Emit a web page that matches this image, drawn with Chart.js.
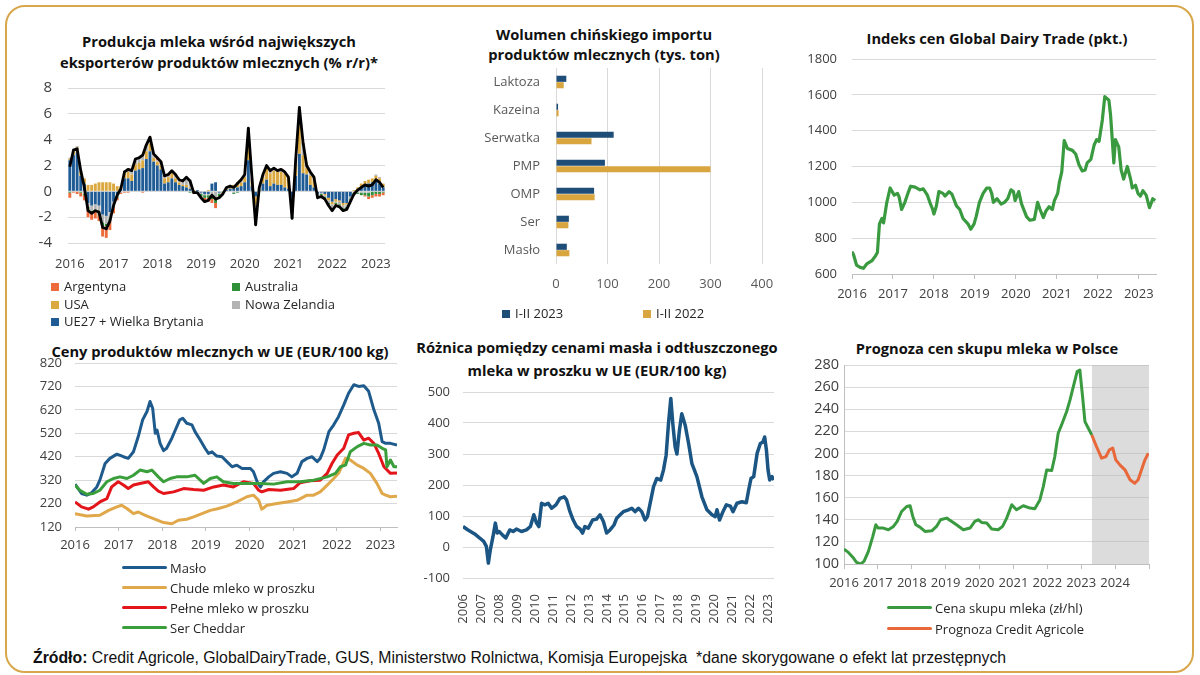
<!DOCTYPE html>
<html lang="pl">
<head>
<meta charset="utf-8">
<script src="https://cdn.jsdelivr.net/npm/chart.js@4.4.1/dist/chart.umd.min.js"></script>
<style>
  html, body { margin: 0; padding: 0; background: #fff; }
  body { width: 1200px; height: 675px; position: relative; overflow: hidden; font-family: 'Open Sans', sans-serif; color: #262626; }
  .frame { position: absolute; left: 5px; top: 5px; width: 1189px; height: 668px; box-sizing: border-box; border: 2px solid #d8a74b; border-radius: 20px; }
  canvas { position: absolute; }
  .title { position: absolute; text-align: center; font-weight: 700; font-size: 14.7px; line-height: 21px; color: #111; white-space: nowrap; }
  .leg { position: absolute; font-size: 13px; line-height: 16px; color: #262626; white-space: nowrap; }
  .sq { display: inline-block; width: 8px; height: 8px; margin-right: 5px; vertical-align: 0px; }
  .ln { display: inline-block; width: 45px; height: 3.5px; border-radius: 2px; vertical-align: 4px; margin-right: 3px; }
  .foot { position: absolute; left: 33px; top: 649px; font-family: 'Liberation Sans Narrow', 'Liberation Sans', sans-serif; font-size: 15.8px; color: #111; white-space: nowrap; }
</style>
</head>
<body>
<div class="frame"></div>

<div class="title" style="left:19px; top:31px; width:400px;">Produkcja mleka wśród największych<br>eksporterów produktów mlecznych (% r/r)*</div>
<div class="title" style="left:404px; top:25px; width:400px; line-height:19.5px;">Wolumen chińskiego importu<br>produktów mlecznych (tys. ton)</div>
<div class="title" style="left:797px; top:28px; width:400px;">Indeks cen Global Dairy Trade (pkt.)</div>
<div class="title" style="left:20px; top:341px; width:400px;">Ceny produktów mlecznych w UE (EUR/100 kg)</div>
<div class="title" style="left:397px; top:336px; width:400px; line-height:22.5px;">Różnica pomiędzy cenami masła i odtłuszczonego<br>mleka w proszku w UE (EUR/100 kg)</div>
<div class="title" style="left:787px; top:338px; width:400px;">Prognoza cen skupu mleka w Polsce</div>

<canvas id="c1" width="375" height="200" style="left:20px; top:78px;"></canvas>
<canvas id="c2" width="320" height="245" style="left:470px; top:60px;"></canvas>
<canvas id="c3" width="390" height="260" style="left:790px; top:50px;"></canvas>
<canvas id="c4" width="385" height="205" style="left:20px; top:355px;"></canvas>
<canvas id="c5" width="375" height="245" style="left:410px; top:382px;"></canvas>
<canvas id="c6" width="385" height="250" style="left:790px; top:355px;"></canvas>

<div class="leg" style="left:51px; top:278px;"><span class="sq" style="background:#ec6b3b"></span>Argentyna</div>
<div class="leg" style="left:232px; top:278px;"><span class="sq" style="background:#2f8f3a"></span>Australia</div>
<div class="leg" style="left:51px; top:296px;"><span class="sq" style="background:#dba83f"></span>USA</div>
<div class="leg" style="left:232px; top:296px;"><span class="sq" style="background:#b4b4b4"></span>Nowa Zelandia</div>
<div class="leg" style="left:51px; top:313px;"><span class="sq" style="background:#1f5b95"></span>UE27 + Wielka Brytania</div>

<div class="leg" style="left:502px; top:305px;"><span class="sq" style="background:#1e4d78"></span>I-II 2023</div>
<div class="leg" style="left:643px; top:305px;"><span class="sq" style="background:#d8a53f"></span>I-II 2022</div>

<div class="leg" style="left:122px; top:560px;"><span class="ln" style="background:#1e5b8c"></span>Masło</div>
<div class="leg" style="left:122px; top:580px;"><span class="ln" style="background:#e0a84a"></span>Chude mleko w proszku</div>
<div class="leg" style="left:122px; top:600px;"><span class="ln" style="background:#e3151a"></span>Pełne mleko w proszku</div>
<div class="leg" style="left:122px; top:620px;"><span class="ln" style="background:#3a9e3a"></span>Ser Cheddar</div>

<div class="leg" style="left:887px; top:600px;"><span class="ln" style="background:#3a9a3f"></span>Cena skupu mleka (zł/hl)</div>
<div class="leg" style="left:887px; top:621px;"><span class="ln" style="background:#e8683a"></span>Prognoza Credit Agricole</div>

<div class="foot"><b>Źródło:</b> Credit Agricole, GlobalDairyTrade, GUS, Ministerstwo Rolnictwa, Komisja Europejska &nbsp;*dane skorygowane o efekt lat przestępnych</div>

<script>
// ---- 1. produkcja mleka, % r/r, miesięcznie od 01.2016
const prodTotal = [
  1.9,3.2,3.3,1.6,0.3,-1.5,-1.7,-1.5,-1.6,-2.8,-2.9,-2.3,
  -1.1,-0.3,0.2,1.5,1.7,1.6,2.5,2.6,2.8,3.6,4.2,2.9,
  2.6,2.3,1.2,1.3,1.6,1.3,0.9,0.8,1.1,0.8,-0.1,-0.1,
  -0.5,-0.8,-0.7,-0.3,-0.6,-0.5,-0.2,0.3,0.4,0.3,0.6,0.9,
  1.3,4.9,1.0,-2.6,0.3,1.3,2.0,1.6,1.8,1.6,1.7,1.5,
  1.1,-2.1,2.5,6.5,3.8,2.0,1.5,1.1,-0.5,-0.4,-0.6,-1.1,
  -1.5,-1.1,-1.2,-1.5,-1.4,-0.8,-0.2,0.1,0.3,0.5,0.4,0.5,
  0.9,0.7,0.3];
const prodEU = [
  2.4,2.8,3.0,1.2,0.6,-0.9,-1.1,-1.0,-1.1,-1.8,-1.9,-1.6,
  -0.8,-0.2,0.1,1.0,1.0,0.8,1.6,1.7,1.8,2.5,3.1,2.3,
  2.0,1.7,0.6,0.7,1.0,0.7,0.5,0.4,0.3,0.2,0.0,0.1,
  -0.1,-0.2,-0.2,0.6,0.7,-0.1,0.0,0.1,0.2,0.2,0.3,0.4,
  0.7,2.4,0.4,-0.4,0.1,0.6,0.9,0.4,0.6,0.5,0.5,0.3,
  0.2,-0.5,1.2,2.9,1.4,1.3,0.5,0.3,-0.2,-0.1,-0.2,-0.5,
  -0.8,-0.6,-0.7,-0.9,-0.9,-0.4,0.0,0.1,0.3,0.5,0.6,0.7,
  0.8,0.6,0.3];
const prodUSA = [
  0.1,0.3,0.4,0.3,0.4,0.5,0.5,0.6,0.7,0.7,0.7,0.7,
  0.6,0.4,0.3,0.4,0.5,0.5,0.5,0.5,0.6,0.6,0.6,0.3,
  0.3,0.3,0.4,0.4,0.4,0.3,0.2,0.1,0.2,0.1,0.1,0.0,
  0.0,0.0,0.1,0.0,0.0,0.0,0.0,0.1,0.2,0.3,0.3,0.3,
  0.4,1.2,0.4,-0.6,0.1,0.5,0.9,1.0,1.0,1.0,1.0,1.1,
  0.9,-1.2,0.9,2.2,1.4,0.5,0.7,0.6,0.0,0.0,-0.1,-0.2,
  -0.2,-0.2,-0.1,-0.2,-0.1,0.0,0.1,0.2,0.3,0.3,0.3,0.3,
  0.4,0.4,0.3];
const prodNZ = [
  0.1,0.2,0.1,0.1,-0.2,-0.3,-0.4,-0.4,-0.5,-0.6,-0.6,-0.5,
  -0.3,-0.2,-0.1,0.2,0.3,0.3,0.4,0.4,0.4,0.5,0.4,0.2,
  0.1,0.1,0.1,0.1,0.1,0.2,0.2,0.3,0.6,0.6,0.0,0.0,
  -0.1,-0.1,-0.1,-0.4,-0.6,-0.1,0.0,0.1,0.0,-0.1,0.0,0.1,
  0.2,1.2,0.2,-1.4,0.1,0.1,0.1,0.1,0.1,0.1,0.1,0.1,
  0.0,-0.3,0.3,1.3,0.8,0.2,0.2,0.1,-0.2,-0.1,-0.1,-0.2,
  -0.3,-0.1,-0.2,-0.2,-0.2,-0.2,-0.1,-0.1,-0.1,-0.1,-0.1,0.0,
  0.1,0.1,0.0];
const prodAUS = [
  -0.1,0.0,0.0,-0.1,-0.1,-0.2,-0.2,-0.2,-0.2,-0.3,-0.2,-0.2,
  -0.1,-0.1,0.0,0.0,0.0,0.0,0.0,0.0,0.0,0.0,0.0,0.0,
  0.0,0.0,0.0,0.0,0.0,0.0,0.0,0.0,0.0,-0.1,-0.1,-0.1,
  -0.2,-0.2,-0.2,-0.2,-0.3,-0.2,-0.1,0.0,0.0,-0.1,-0.1,0.0,
  0.0,0.1,0.0,-0.2,0.0,0.0,0.0,0.0,0.0,0.0,0.0,0.0,
  0.0,-0.1,0.0,0.1,0.1,0.0,0.0,0.0,-0.1,-0.1,-0.1,-0.1,
  -0.1,-0.1,-0.1,-0.1,-0.1,-0.1,-0.2,-0.1,-0.2,-0.2,-0.3,-0.3,
  -0.2,-0.2,-0.1];
const prodARG = [
  -0.4,-0.1,-0.2,-0.3,-0.4,-0.6,-0.5,-0.5,-0.5,-0.8,-0.9,-0.7,
  -0.5,-0.2,-0.1,-0.1,-0.1,0.0,0.0,0.0,-0.1,0.0,0.1,0.1,
  0.2,0.2,0.1,0.1,0.1,0.1,0.0,0.0,0.0,0.0,-0.1,-0.1,
  -0.1,-0.3,-0.3,-0.3,-0.4,-0.1,-0.1,0.0,0.0,0.0,0.1,0.1,
  0.0,0.0,0.0,0.0,0.0,0.1,0.1,0.1,0.1,0.0,0.1,0.0,
  0.0,0.0,0.1,0.0,0.1,0.0,0.1,0.1,0.0,-0.1,-0.1,-0.1,
  -0.1,-0.1,-0.1,-0.1,-0.1,-0.1,0.0,0.0,0.0,-0.1,-0.2,-0.2,
  -0.2,-0.2,-0.2];
const prodMonths = [];
for (let i = 0; i < prodTotal.length; i++) {
  prodMonths.push((2016 + Math.floor(i / 12)) + '-' + String(i % 12 + 1).padStart(2, '0'));
}

// ---- 2. import Chin, tys. ton
const importCats = ['Laktoza', 'Kazeina', 'Serwatka', 'PMP', 'OMP', 'Ser', 'Masło'];
const import2023 = [20, 4, 112, 95, 74, 25, 21];
const import2022 = [15, 5, 69, 300, 75, 24, 26];

// ---- 3. GDT
const gdtDates = [2016.00,2016.04,2016.11,2016.20,2016.28,2016.36,2016.49,2016.57,2016.62,2016.67,
  2016.73,2016.77,2016.85,2016.93,2017.03,2017.11,2017.15,2017.21,2017.29,2017.38,
  2017.43,2017.54,2017.66,2017.74,2017.84,2017.90,2017.97,2018.00,2018.06,2018.12,
  2018.22,2018.27,2018.37,2018.44,2018.55,2018.63,2018.71,2018.83,2018.90,2018.98,
  2019.03,2019.11,2019.20,2019.29,2019.36,2019.41,2019.45,2019.54,2019.64,2019.72,
  2019.80,2019.88,2019.94,2019.98,2020.07,2020.14,2020.21,2020.26,2020.34,2020.45,
  2020.53,2020.59,2020.67,2020.73,2020.81,2020.89,2020.94,2021.02,2021.06,2021.12,
  2021.18,2021.26,2021.38,2021.46,2021.54,2021.62,2021.69,2021.74,2021.83,2021.91,
  2021.97,2022.03,2022.11,2022.17,2022.27,2022.31,2022.35,2022.39,2022.43,2022.51,
  2022.57,2022.63,2022.72,2022.80,2022.84,2022.92,2022.98,2023.04,2023.10,2023.18,
  2023.26,2023.31,2023.34,2023.40];
const gdtIndex = [725,706,650,637,632,656,675,700,720,880,
  910,885,1000,1080,1040,1050,1030,960,1000,1060,
  1090,1085,1070,1075,1040,1000,960,935,980,1060,
  1050,1035,1060,1045,980,960,910,880,850,880,
  920,1000,1050,1080,1080,1050,1000,1020,990,1000,
  1020,1070,1060,1010,1060,990,950,920,900,905,
  1000,960,915,950,975,960,1010,1050,1110,1170,
  1345,1300,1290,1270,1210,1175,1180,1220,1240,1320,
  1350,1340,1460,1590,1570,1490,1360,1220,1350,1310,
  1180,1130,1200,1130,1080,1095,1050,1035,1065,1040,
  970,1000,1020,1010];
const gdtYears = [2016, 2017, 2018, 2019, 2020, 2021, 2022, 2023];

// ---- 4. ceny w UE, EUR/100 kg
const butterDates = [2016.00,2016.15,2016.27,2016.38,2016.50,2016.57,2016.69,2016.80,2016.96,2017.11,
  2017.22,2017.34,2017.45,2017.55,2017.65,2017.72,2017.78,2017.84,2017.88,2017.95,
  2018.03,2018.10,2018.22,2018.30,2018.40,2018.47,2018.56,2018.68,2018.75,2018.87,
  2018.98,2019.06,2019.14,2019.25,2019.37,2019.48,2019.60,2019.71,2019.83,2020.02,
  2020.09,2020.19,2020.25,2020.32,2020.44,2020.55,2020.71,2020.86,2020.97,2021.09,
  2021.20,2021.32,2021.43,2021.55,2021.62,2021.70,2021.82,2021.93,2022.04,2022.16,
  2022.27,2022.39,2022.50,2022.62,2022.73,2022.85,2022.96,2023.04,2023.12,2023.23,
  2023.38];
const butterPrice = [303,263,256,266,291,320,391,413,431,420,
  413,441,506,577,613,656,627,520,534,477,
  446,456,499,534,577,584,563,556,527,491,
  456,434,441,423,420,399,377,384,370,370,
  356,306,291,313,334,349,356,349,334,349,
  399,413,420,399,413,449,527,556,591,641,
  691,727,720,723,699,620,563,484,477,477,
  470];
const smpDates = [2016.00,2016.27,2016.57,2016.77,2016.96,2017.07,2017.19,2017.34,2017.45,2017.61,
  2017.80,2018.03,2018.22,2018.37,2018.56,2018.72,2018.91,2019.10,2019.29,2019.48,
  2019.71,2019.94,2020.09,2020.21,2020.28,2020.40,2020.63,2020.86,2021.09,2021.32,
  2021.47,2021.62,2021.78,2021.93,2022.04,2022.20,2022.31,2022.47,2022.62,2022.77,
  2022.92,2023.04,2023.12,2023.23,2023.38];
const smpPrice = [177,167,170,191,206,213,199,177,184,170,
  156,139,134,149,153,163,177,191,199,209,
  227,249,256,234,196,213,220,227,234,256,
  256,270,299,327,349,413,406,384,370,349,
  306,263,256,249,251];
const wmpDates = [2016.00,2016.15,2016.31,2016.42,2016.57,2016.73,2016.84,2016.99,2017.11,2017.22,
  2017.34,2017.49,2017.68,2017.80,2017.91,2018.03,2018.26,2018.49,2018.72,2018.95,
  2019.18,2019.40,2019.63,2019.86,2020.09,2020.21,2020.28,2020.44,2020.71,2021.01,
  2021.16,2021.39,2021.62,2021.78,2021.89,2022.01,2022.16,2022.27,2022.39,2022.50,
  2022.62,2022.73,2022.85,2022.96,2023.08,2023.23,2023.38];
const wmpPrice = [227,206,196,206,227,241,291,313,299,284,
  299,306,313,291,273,263,270,284,280,277,
  291,299,291,313,306,277,270,280,277,284,
  309,317,320,349,391,427,456,513,520,523,
  491,499,477,434,377,349,351];
const cheddarDates = [2016.00,2016.11,2016.27,2016.42,2016.57,2016.73,2016.88,2017.03,2017.19,2017.34,
  2017.49,2017.65,2017.76,2017.91,2018.03,2018.18,2018.33,2018.56,2018.75,2018.95,
  2019.10,2019.25,2019.40,2019.63,2019.94,2020.25,2020.55,2020.86,2021.16,2021.47,
  2021.78,2021.97,2022.08,2022.20,2022.31,2022.47,2022.62,2022.77,2022.92,2023.04,
  2023.12,2023.15,2023.23,2023.31,2023.38];
const cheddarPrice = [299,277,260,263,277,313,327,334,327,341,
  363,356,363,334,313,327,334,334,341,306,
  327,334,313,306,306,306,303,313,313,320,
  334,349,377,384,441,463,477,470,470,456,
  449,377,406,377,377];

// ---- 5. różnica masło - OMP
const spreadDates = [2006.00,2006.28,2006.65,2006.93,2007.15,2007.30,2007.41,2007.52,2007.67,2007.80,
  2007.90,2008.01,2008.19,2008.38,2008.60,2008.79,2008.97,2009.25,2009.53,2009.75,
  2009.94,2010.09,2010.22,2010.37,2010.55,2010.74,2010.93,2011.17,2011.39,2011.63,
  2011.76,2011.95,2012.13,2012.32,2012.51,2012.65,2012.78,2012.97,2013.21,2013.43,
  2013.62,2013.81,2013.99,2014.18,2014.40,2014.55,2014.74,2014.92,2015.20,2015.39,
  2015.57,2015.76,2015.94,2016.13,2016.26,2016.41,2016.60,2016.78,2017.00,2017.15,
  2017.30,2017.43,2017.56,2017.67,2017.80,2017.90,2018.04,2018.17,2018.36,2018.55,
  2018.73,2019.01,2019.29,2019.57,2019.85,2020.03,2020.13,2020.27,2020.46,2020.65,
  2020.87,2021.02,2021.24,2021.52,2021.76,2021.89,2022.02,2022.17,2022.36,2022.54,
  2022.69,2022.78,2022.88,2022.97,2023.06,2023.19,2023.29];
const spreadValue = [66,55,42,29,18,2,-52,-9,34,77,
  45,50,39,29,55,50,58,50,55,66,
  104,77,66,141,136,141,125,136,157,162,
  152,114,87,66,58,45,66,61,87,90,
  104,82,45,55,71,93,104,114,120,125,
  114,125,114,87,98,141,195,221,216,248,
  296,398,479,398,323,300,377,430,393,334,
  270,227,162,120,104,98,120,87,114,136,
  132,114,141,146,143,184,221,227,302,334,
  339,355,312,248,216,227,216];
const spreadYears = [2006,2007,2008,2009,2010,2011,2012,2013,2014,2015,2016,2017,2018,2019,2020,2021,2022,2023];

// ---- 6. cena skupu mleka w Polsce, zł/hl
const milkDates = [2016.00,2016.13,2016.28,2016.37,2016.49,2016.59,2016.72,2016.85,2016.94,2017.01,
  2017.16,2017.31,2017.46,2017.57,2017.70,2017.85,2017.95,2018.03,2018.12,2018.24,
  2018.39,2018.59,2018.73,2018.85,2019.03,2019.18,2019.32,2019.52,2019.72,2019.86,
  2019.96,2020.06,2020.21,2020.36,2020.55,2020.68,2020.80,2020.95,2021.09,2021.29,
  2021.49,2021.63,2021.78,2021.88,2021.98,2022.13,2022.22,2022.32,2022.42,2022.57,
  2022.67,2022.78,2022.88,2022.96,2023.04,2023.11,2023.21,2023.31];
const milkPrice = [113.5,110.5,105.4,101.5,100,102.4,111.4,125,135.5,132.5,
  132.5,131,134,138.5,147.5,152,152.7,143,135.5,133.4,
  129.5,130,134,140,141.5,138.5,135.5,131,132.5,138.5,
  140,137.6,137,131.6,131,134,141.5,153.6,149,152.7,
  150.6,150,158,170,185,184.6,197,218.3,225.8,237.9,
  248.4,262,274,275.5,251.4,228.8,222.8,216.8];
const forecastDates = [2023.31,2023.45,2023.60,2023.73,2023.83,2023.93,2024.02,2024.14,2024.29,2024.44,
  2024.58,2024.68,2024.78,2024.88,2024.98];
const forecastPrice = [216.8,206.3,195.7,197.2,203.2,204.8,194.2,189.7,185.2,176.2,
  173.1,176.2,185.2,194.2,200.2];
const forecastRange = [2023.31, 2025];
const milkYears = [2016, 2017, 2018, 2019, 2020, 2021, 2022, 2023, 2024];

// ---- wspólne ustawienia
Chart.defaults.font.family = "'Open Sans', sans-serif";
Chart.defaults.font.size = 13;
Chart.defaults.color = '#404040';
Chart.defaults.animation = false;
Chart.defaults.responsive = false;
Chart.defaults.maintainAspectRatio = false;
Chart.defaults.plugins.legend.display = false;
Chart.defaults.plugins.tooltip.enabled = false;
Chart.defaults.elements.point.radius = 0;
Chart.defaults.elements.line.tension = 0;
Chart.defaults.elements.line.borderJoinStyle = 'round';

const GRID = '#d9d9d9';
const AXIS = '#bfbfbf';
const xy = (dates, vals) => dates.map((d, i) => ({ x: d, y: vals[i] }));
// stała szerokość / wysokość osi, bez dodatkowego marginesu od etykiet
const fixY = w => s => { s.width = w; s.paddingTop = 0; s.paddingBottom = 0; };
const fixX = h => s => { s.height = h; s.paddingLeft = 0; s.paddingRight = 0; };
const plain = v => String(v);

// 1
new Chart(document.getElementById('c1'), {
  type: 'bar',
  data: {
    labels: prodMonths,
    datasets: [
      { type: 'line', data: prodTotal, borderColor: '#000', borderWidth: 2.8, stack: 'total', order: 0 },
      { label: 'UE27 + Wielka Brytania', data: prodEU, backgroundColor: '#1f5b95', order: 1 },
      { label: 'USA', data: prodUSA, backgroundColor: '#dba83f', order: 1 },
      { label: 'Nowa Zelandia', data: prodNZ, backgroundColor: '#b4b4b4', order: 1 },
      { label: 'Australia', data: prodAUS, backgroundColor: '#2f8f3a', order: 1 },
      { label: 'Argentyna', data: prodARG, backgroundColor: '#ec6b3b', order: 1 }
    ]
  },
  options: {
    layout: { padding: { top: 10, right: 10 } },
    datasets: { bar: { barPercentage: 0.8, categoryPercentage: 1 } },
    scales: {
      x: {
        stacked: true,
        grid: { display: false }, border: { display: false },
        ticks: { autoSkip: false, maxRotation: 0, padding: 5,
          callback: (v, i) => prodMonths[i].endsWith('-01') ? prodMonths[i].slice(0, 4) : '' },
        afterFit: fixX(35)
      },
      y: {
        stacked: true, min: -4, max: 8,
        ticks: { stepSize: 2, padding: 16, font: { size: 15 } },
        grid: { color: GRID, drawTicks: false }, border: { display: false },
        afterFit: fixY(48)
      }
    }
  }
});

// 2
new Chart(document.getElementById('c2'), {
  type: 'bar',
  data: {
    labels: importCats,
    datasets: [
      { label: 'I-II 2023', data: import2023, backgroundColor: '#1e4d78' },
      { label: 'I-II 2022', data: import2022, backgroundColor: '#d8a53f' }
    ]
  },
  options: {
    indexAxis: 'y',
    layout: { padding: { top: 8, right: 28 } },
    datasets: { bar: { categoryPercentage: 0.46, barPercentage: 0.95 } },
    scales: {
      x: {
        min: 0, max: 400,
        ticks: { stepSize: 100, padding: 12, color: '#595959' },
        grid: { color: GRID, drawTicks: false }, border: { display: false },
        afterFit: fixX(41)
      },
      y: {
        grid: { display: false, drawTicks: false }, border: { display: false },
        ticks: { padding: 16, color: '#595959' },
        afterFit: fixY(86)
      }
    }
  }
});

// 3
new Chart(document.getElementById('c3'), {
  type: 'line',
  data: { datasets: [{ data: xy(gdtDates, gdtIndex), borderColor: '#3a9a3f', borderWidth: 3.2 }] },
  options: {
    layout: { padding: { top: 9, right: 24 } },
    scales: {
      x: {
        type: 'linear', min: 2016, max: 2023.42,
        ticks: { stepSize: 1, includeBounds: false, padding: 7,
          callback: v => gdtYears.includes(v) ? String(v) : '' },
        grid: { drawOnChartArea: false, tickLength: 5, color: AXIS }, border: { color: AXIS },
        afterFit: fixX(36)
      },
      y: {
        min: 600, max: 1800,
        ticks: { stepSize: 200, padding: 15, callback: plain },
        grid: { color: GRID, drawTicks: false }, border: { display: false },
        afterFit: fixY(62)
      }
    }
  }
});

// 4
new Chart(document.getElementById('c4'), {
  type: 'line',
  data: {
    datasets: [
      { label: 'Ser Cheddar', data: xy(cheddarDates, cheddarPrice), borderColor: '#3a9e3a', borderWidth: 3 },
      { label: 'Chude mleko w proszku', data: xy(smpDates, smpPrice), borderColor: '#e0a84a', borderWidth: 3 },
      { label: 'Pełne mleko w proszku', data: xy(wmpDates, wmpPrice), borderColor: '#e3151a', borderWidth: 3 },
      { label: 'Masło', data: xy(butterDates, butterPrice), borderColor: '#1e5b8c', borderWidth: 3 }
    ]
  },
  options: {
    layout: { padding: { top: 8, right: 8 } },
    scales: {
      x: {
        type: 'linear', min: 2016, max: 2023.38,
        ticks: { stepSize: 1, includeBounds: false, padding: 6,
          callback: v => gdtYears.includes(v) ? String(v) : '' },
        grid: { drawOnChartArea: false, tickLength: 4, color: AXIS }, border: { color: AXIS },
        afterFit: fixX(33)
      },
      y: {
        min: 120, max: 820,
        ticks: { stepSize: 100, padding: 13 },
        grid: { color: GRID, drawTicks: false }, border: { display: false },
        afterFit: fixY(55)
      }
    }
  }
});

// 5
new Chart(document.getElementById('c5'), {
  type: 'line',
  data: { datasets: [{ data: xy(spreadDates, spreadValue), borderColor: '#1b5583', borderWidth: 3.5 }] },
  options: {
    layout: { padding: { top: 10, right: 11 } },
    scales: {
      x: {
        type: 'linear', min: 2006, max: 2023.3,
        ticks: { stepSize: 1, includeBounds: false, padding: 8, minRotation: 90, maxRotation: 90, autoSkip: false,
          callback: v => spreadYears.includes(v) ? String(v) : '' },
        grid: { display: false }, border: { display: false },
        afterFit: fixX(49)
      },
      y: {
        min: -100, max: 500,
        ticks: { stepSize: 100, padding: 13 },
        grid: { color: GRID, drawTicks: false }, border: { display: false },
        afterFit: fixY(53)
      }
    }
  }
});

// 6
new Chart(document.getElementById('c6'), {
  type: 'line',
  data: {
    datasets: [
      { label: 'Cena skupu mleka (zł/hl)', data: xy(milkDates, milkPrice), borderColor: '#3a9a3f', borderWidth: 3, order: 0 },
      { label: 'Prognoza Credit Agricole', data: xy(forecastDates, forecastPrice), borderColor: '#e8683a', borderWidth: 3, order: 0 },
      { label: 'prognoza', data: forecastRange.map(d => ({ x: d, y: 280 })), borderWidth: 0,
        fill: 'start', backgroundColor: 'rgba(185,185,185,0.5)', order: 1 }
    ]
  },
  options: {
    layout: { padding: { top: 10, right: 26 } },
    scales: {
      x: {
        type: 'linear', min: 2016, max: 2025,
        ticks: { stepSize: 1, padding: 6, minRotation: 0, maxRotation: 0, autoSkip: false,
          callback: v => milkYears.includes(v) ? String(v) : '' },
        grid: { drawOnChartArea: false, tickLength: 5, color: AXIS }, border: { color: AXIS },
        afterFit: fixX(41)
      },
      y: {
        min: 100, max: 280,
        ticks: { stepSize: 20, padding: 5, font: { size: 14.5 } },
        grid: { color: GRID, drawTicks: false }, border: { display: true, color: AXIS },
        afterFit: fixY(54)
      }
    }
  }
});
</script>
</body>
</html>
